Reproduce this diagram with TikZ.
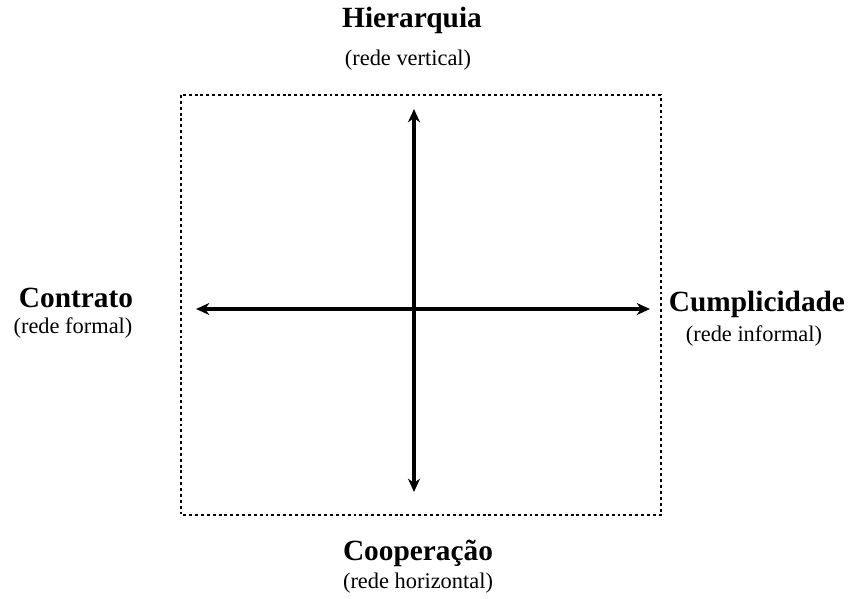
\documentclass[tikz,border=0pt]{standalone}
\usepackage{fontspec}
\setmainfont{Liberation Serif}
\usetikzlibrary{arrows.meta}

\tikzset{
  pole/.style={anchor=base, inner sep=0.75pt, font=\fontsize{22}{24}\selectfont\bfseries},
  kind/.style={anchor=base, inner sep=0.75pt, font=\fontsize{16.8}{18}\selectfont},
  axis/.style={line width=2.6, {Stealth[length=10,width=9]}-{Stealth[length=10,width=9]}},
  frame/.style={line width=2, dash pattern=on 2.2 off 2.2}
}

\begin{document}
\begin{tikzpicture}[x=0.75pt,y=0.75pt,yscale=-1,xscale=1]
    \useasboundingbox (0,0) rectangle (853,599);
    % dotted frame
    \draw [frame] (181,95) rectangle (661,515);
    % axis ends
    \coordinate (up) at (414,109);
    \coordinate (down) at (414,492);
    \coordinate (west) at (196,309);
    \coordinate (east) at (650,309);
    \draw [axis] (up) -- (down);
    \draw [axis] (west) -- (east);
    % labels
    \node (hier) [pole] at (412,28) {Hierarquia};
    \node (hierSub) [kind] at (408,66) {(rede vertical)};
    \node (contr) [pole] at (76,307) {Contrato};
    \node (contrSub) [kind] at (73,333) {(rede formal)};
    \node (cumpl) [pole] at (757,311) {Cumplicidade};
    \node (cumplSub) [kind] at (754,341) {(rede informal)};
    \node (coop) [pole] at (418,560) {Cooperação};
    \node (coopSub) [kind] at (418,588) {(rede horizontal)};
\end{tikzpicture}
\end{document}
